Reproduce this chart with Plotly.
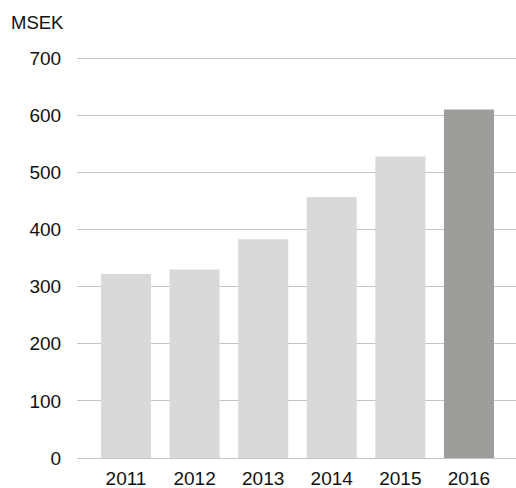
import plotly.graph_objects as go

years = ["2011", "2012", "2013", "2014", "2015", "2016"]
values = [322, 330, 383, 457, 528, 610]
colors = ["#d9d9d9", "#d9d9d9", "#d9d9d9", "#d9d9d9", "#d9d9d9", "#9d9d9c"]
y_ticks = [0, 100, 200, 300, 400, 500, 600, 700]

fig = go.Figure(go.Bar(x=years, y=values, marker=dict(color=colors, line=dict(width=0)),
                       hoverinfo="skip"))

font = dict(family="Liberation Sans, Arial, Helvetica, sans-serif", size=19, color="#111111")

fig.update_layout(
    width=516, height=488,
    margin=dict(l=77, r=0, t=57, b=30),
    paper_bgcolor="white", plot_bgcolor="white",
    bargap=0.27,
    showlegend=False,
    font=font,
    xaxis=dict(range=[-0.714, 5.686], showgrid=False, showline=False, zeroline=False,
               ticks="outside", ticklen=3, tickcolor="rgba(0,0,0,0)", tickfont=font),
    yaxis=dict(range=[0, 702], tickvals=y_ticks, showgrid=True, gridcolor="#c4c4c4", gridwidth=1.3,
               zeroline=True, zerolinecolor="#c4c4c4", zerolinewidth=1.3, showline=False,
               ticks="outside", ticklen=11, tickcolor="rgba(0,0,0,0)", tickfont=font),
    annotations=[dict(text="MSEK", xref="paper", yref="paper", x=0, y=1 + 35/401,
                      xanchor="left", yanchor="middle", showarrow=False,
                      font=dict(family=font["family"], size=18.5, color="#111111"), xshift=-68)],
)

fig.write_html("out.html", config={"displayModeBar": False},
               post_script="document.body.style.margin='0';document.body.style.padding='0';")
